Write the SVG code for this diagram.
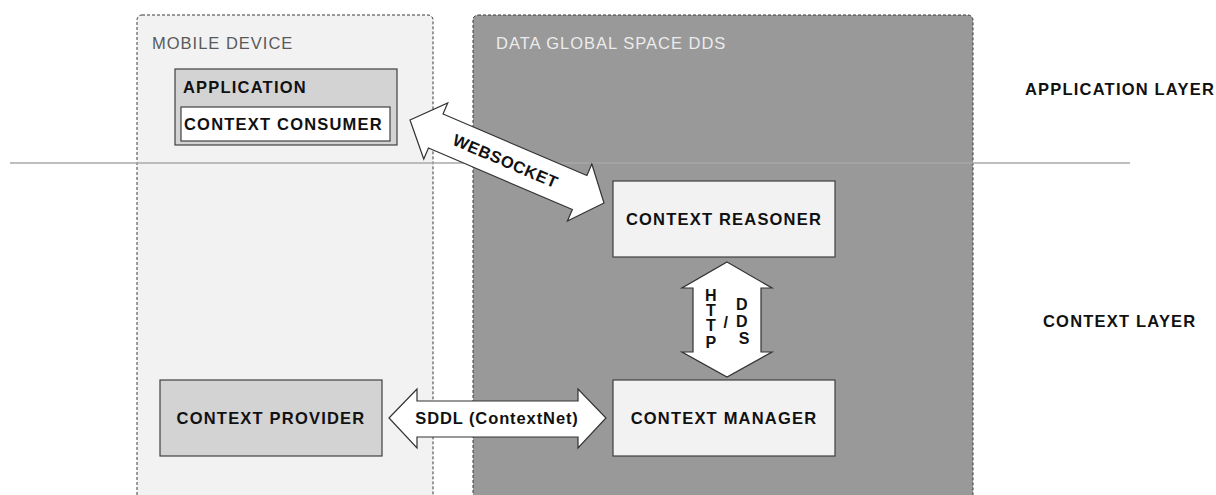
<svg xmlns="http://www.w3.org/2000/svg" width="1216" height="495" viewBox="0 0 1216 495">
<style>
.container{stroke:#3a3a3a;stroke-width:1;stroke-dasharray:3 2}
.box{stroke:#404040;stroke-width:1.2}
.lbl{font-family:"Liberation Sans",Arial,sans-serif;font-weight:bold;font-size:16.5px;letter-spacing:1.2px;fill:#111}
.clbl{font-family:"Liberation Sans",Arial,sans-serif;font-size:16.5px;letter-spacing:1px}
.arrow{fill:#fff;stroke:#333;stroke-width:1.2;stroke-linejoin:miter}
.mid{text-anchor:middle}
</style>
<rect width="1216" height="495" fill="#fff"/>
<g id="mobile-device">
  <rect class="container" x="137" y="15" width="296" height="500" rx="5" fill="#f2f2f2"/>
  <text class="clbl" x="152" y="49" fill="#595959">MOBILE DEVICE</text>
</g>
<g id="data-global-space">
  <rect class="container" x="473" y="15" width="500" height="500" rx="5" fill="#999999"/>
  <text class="clbl" x="496" y="49" fill="#ececec">DATA GLOBAL SPACE DDS</text>
</g>
<line id="layer-divider" x1="10" y1="163" x2="1130" y2="163" stroke="#a8a8a8" stroke-width="1.5"/>
<g id="application-layer-label">
  <text class="lbl" x="1025" y="95">APPLICATION LAYER</text>
</g>
<g id="context-layer-label">
  <text class="lbl" x="1043" y="327">CONTEXT LAYER</text>
</g>
<g id="application">
  <rect class="box" x="175" y="69" width="222" height="76" fill="#d3d3d3"/>
  <text class="lbl" x="183" y="93">APPLICATION</text>
</g>
<g id="context-consumer">
  <rect class="box" x="181" y="107" width="209" height="34" fill="#fff"/>
  <text class="lbl" x="184" y="130">CONTEXT CONSUMER</text>
</g>
<g id="context-reasoner">
  <rect class="box" x="613" y="181" width="222" height="76" fill="#f2f2f2"/>
  <text class="lbl mid" x="724" y="225">CONTEXT REASONER</text>
</g>
<g id="context-manager">
  <rect class="box" x="613" y="380" width="222" height="76" fill="#f2f2f2"/>
  <text class="lbl mid" x="724" y="424">CONTEXT MANAGER</text>
</g>
<g id="context-provider">
  <rect class="box" x="160" y="380" width="222" height="76" fill="#d3d3d3"/>
  <text class="lbl mid" x="271" y="424">CONTEXT PROVIDER</text>
</g>
<g id="connectors">
  <g id="websocket" transform="translate(410,120) rotate(23.16)">
    <path class="arrow" d="M0,0 L28,-30.5 L28,-18.5 L184.5,-18.5 L184.5,-31 L211,0 L184.5,31 L184.5,18.5 L28,18.5 L28,30.5 Z"/>
    <text class="lbl mid" x="104" y="6" style="letter-spacing:0.6px">WEBSOCKET</text>
  </g>
  <g id="http-dds">
    <path class="arrow" d="M727,262 L772,288 L761,288 L761,352 L772,352 L727,377 L682,352 L693,352 L693,288 L682,288 Z"/>
    <text class="lbl mid" style="font-size:16px;letter-spacing:0">
      <tspan x="713" y="301">H</tspan>
      <tspan x="713" y="316">T</tspan>
      <tspan x="713" y="331">T</tspan>
      <tspan x="713" y="348">P</tspan>
      <tspan x="728" y="328">/</tspan>
      <tspan x="744" y="310">D</tspan>
      <tspan x="744" y="327">D</tspan>
      <tspan x="744" y="343.5">S</tspan>
    </text>
  </g>
  <g id="sddl">
    <path class="arrow" d="M389,418 L417,389 L417,401 L578,401 L578,389 L606,418 L578,448 L578,437 L417,437 L417,448 Z"/>
    <text class="lbl mid" x="497" y="424" style="letter-spacing:0.9px">SDDL (ContextNet)</text>
  </g>
</g>
</svg>
